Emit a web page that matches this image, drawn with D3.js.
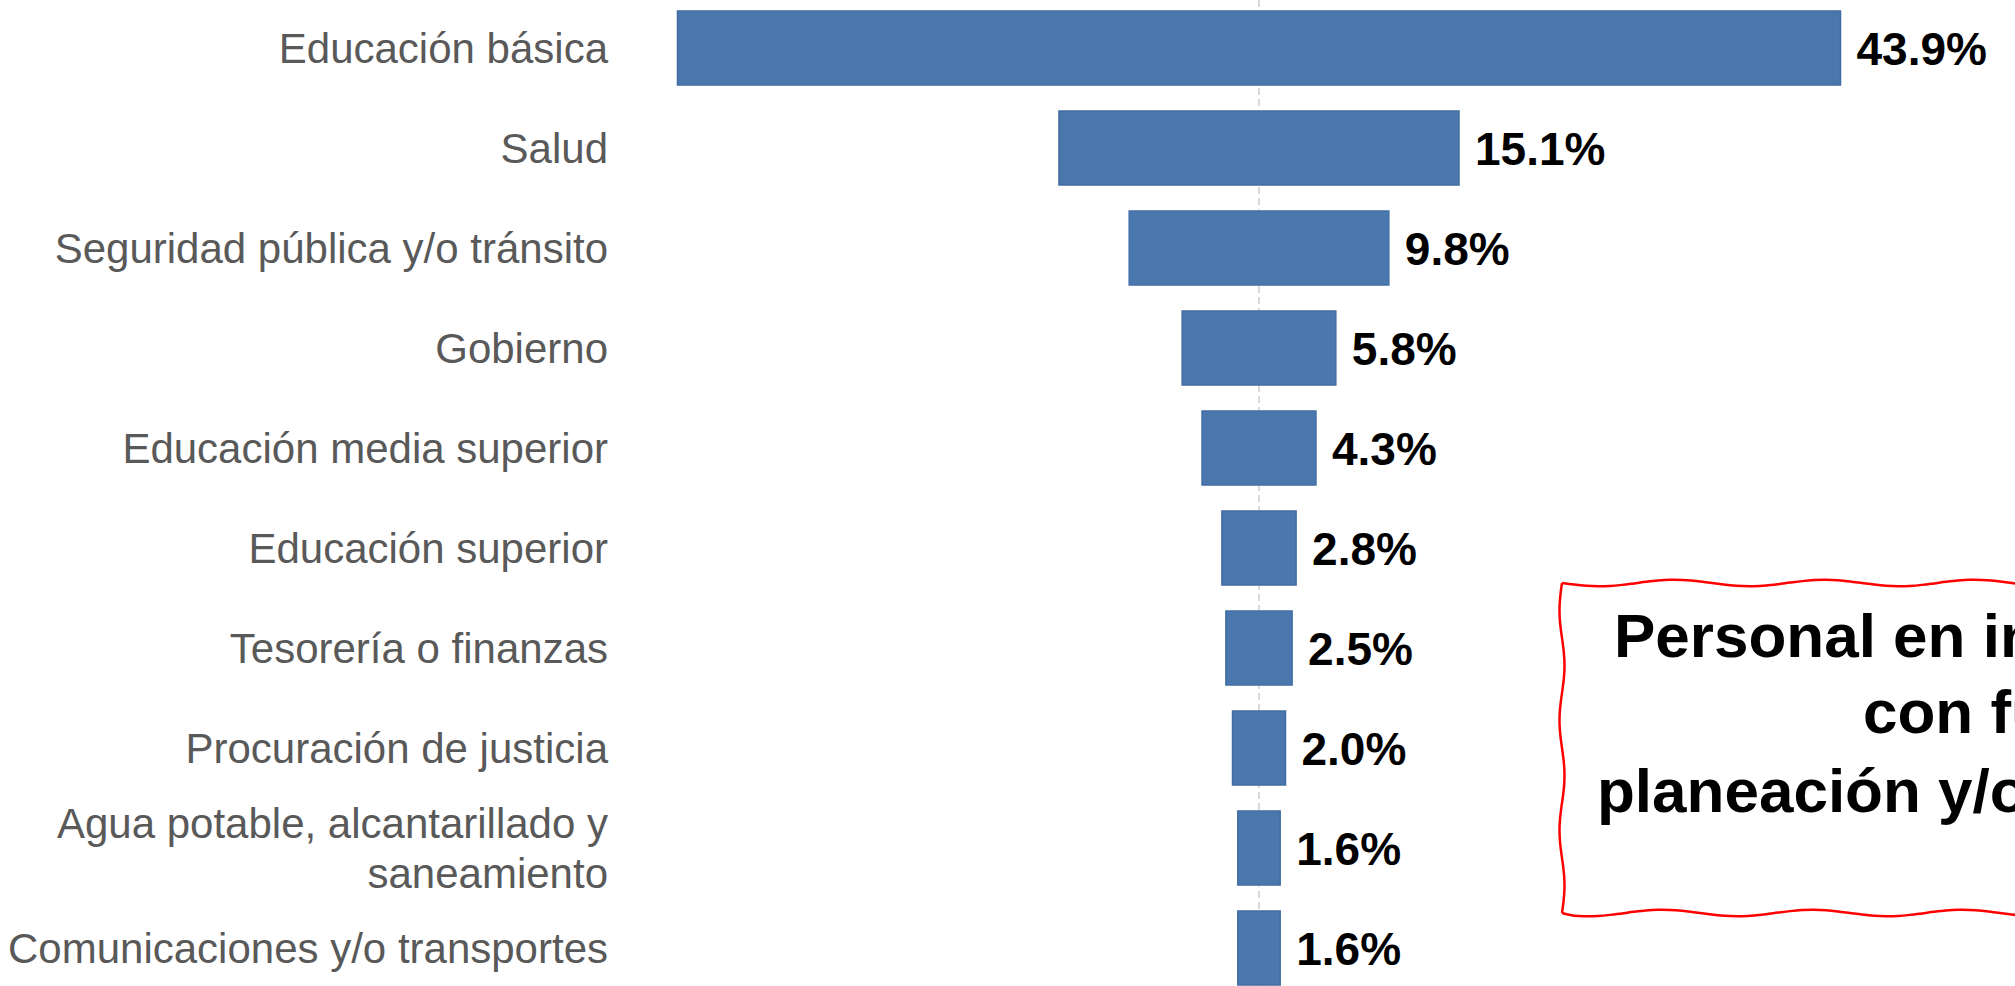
<!DOCTYPE html>
<html>
<head>
<meta charset="utf-8">
<script src="https://cdn.jsdelivr.net/npm/d3@7"></script>
<style>
  html, body { margin: 0; padding: 0; background: #fff; overflow: hidden; }
  svg { display: block; }
</style>
</head>
<body>
<svg id="chart"></svg>
<script>
// data
const categories = [
    "Educación básica",
    "Salud",
    "Seguridad pública y/o tránsito",
    "Gobierno",
    "Educación media superior",
    "Educación superior",
    "Tesorería o finanzas",
    "Procuración de justicia",
    "Agua potable, alcantarillado y\nsaneamiento",
    "Comunicaciones y/o transportes"
];
const values = [43.9, 15.1, 9.8, 5.8, 4.3, 2.8, 2.5, 2.0, 1.6, 1.6];
const valueLabels = ["43.9%", "15.1%", "9.8%", "5.8%", "4.3%", "2.8%", "2.5%", "2.0%", "1.6%", "1.6%"];
const noteLines = ["Personal en instituciones", "con funciones de", "planeación y/o evaluación"];

const data = categories.map((c, i) => ({ cat: c, value: values[i], label: valueLabels[i] }));

const width = 2015, height = 986;
const centerX = 1259;
const labelRight = 608;

const svg = d3.select("#chart")
    .attr("width", width)
    .attr("height", height);

svg.append("rect")
    .attr("width", width)
    .attr("height", height)
    .attr("fill", "#fff");

const y = d3.scaleBand()
    .domain(categories)
    .range([-2, 998])
    .paddingInner(0.26)
    .paddingOuter(0.13);

const x = d3.scaleLinear()
    .domain([0, 43.9])
    .range([0, 1163]);

// dashed center line
svg.append("line")
    .attr("x1", centerX).attr("x2", centerX)
    .attr("y1", 0).attr("y2", height)
    .attr("stroke", "#b3b3b3")
    .attr("stroke-width", 1)
    .attr("stroke-dasharray", "7,4");

// bars, centered on the line
svg.selectAll("rect.bar")
    .data(data)
    .enter()
    .append("rect")
    .attr("class", "bar")
    .attr("x", d => centerX - x(d.value) / 2)
    .attr("y", d => y(d.cat))
    .attr("width", d => x(d.value))
    .attr("height", y.bandwidth())
    .attr("fill", "#4a77ae")
    .attr("stroke", "#406da3")
    .attr("stroke-width", 1.5);

// value labels
svg.selectAll("text.val")
    .data(data)
    .enter()
    .append("text")
    .attr("class", "val")
    .attr("x", d => centerX + x(d.value) / 2 + 16)
    .attr("y", d => y(d.cat) + y.bandwidth() / 2)
    .attr("dy", "0.36em")
    .attr("font-family", "'Liberation Sans', Arial, sans-serif")
    .attr("font-weight", "bold")
    .attr("font-size", 46)
    .attr("fill", "#000")
    .text(d => d.label);

// category labels
const catText = svg.selectAll("text.cat")
    .data(data)
    .enter()
    .append("text")
    .attr("class", "cat")
    .attr("text-anchor", "end")
    .attr("font-family", "'Liberation Sans', Arial, sans-serif")
    .attr("font-size", 42)
    .attr("fill", "#595959")
    .attr("transform", d => `translate(${labelRight},${y(d.cat) + y.bandwidth() / 2})`);

catText.each(function(d) {
    const lines = d.cat.split("\n");
    const lh = 50;
    const start = -(lines.length - 1) * lh / 2;
    d3.select(this).selectAll("tspan")
        .data(lines)
        .enter()
        .append("tspan")
        .attr("x", 0)
        .attr("y", (l, i) => start + i * lh)
        .attr("dy", "0.36em")
        .text(l => l);
});

// wavy red note box (runs off the right edge)
function wavy(x0, y0, x1, y1, amp, wave) {
    const len = Math.hypot(x1 - x0, y1 - y0);
    const n = Math.ceil(len / 12);
    const nx = -(y1 - y0) / len, ny = (x1 - x0) / len;
    return d3.range(n + 1).map(i => {
        const t = i / n;
        const o = (i === 0 || i === n) ? 0 : amp * Math.sin(t * len / wave * Math.PI * 2);
        return [x0 + (x1 - x0) * t + nx * o, y0 + (y1 - y0) * t + ny * o];
    });
}
const boxL = 1562, boxT = 583, boxB = 913, boxR = 2150;
const line = d3.line().curve(d3.curveCatmullRom);
const edges = [
    wavy(boxL, boxT, boxR, boxT, 3.2, 150),
    wavy(boxR, boxT, boxR, boxB, 3, 120),
    wavy(boxR, boxB, boxL, boxB, 3.2, 150),
    wavy(boxL, boxB, boxL, boxT, 2.5, 110)
];
svg.selectAll("path.edge")
    .data(edges)
    .enter()
    .append("path")
    .attr("class", "edge")
    .attr("d", line)
    .attr("fill", "none")
    .attr("stroke", "#ff0000")
    .attr("stroke-width", 2.5);

// note text, cut by the right edge as in the source picture
const noteX = [1614, 1863, 1597];
const noteY = [657, 733, 812];
svg.selectAll("text.note")
    .data(noteLines)
    .enter()
    .append("text")
    .attr("class", "note")
    .attr("x", (d, i) => noteX[i])
    .attr("y", (d, i) => noteY[i])
    .attr("font-family", "'Liberation Sans', Arial, sans-serif")
    .attr("font-weight", "bold")
    .attr("font-size", 62)
    .attr("fill", "#000")
    .text(d => d);
</script>
</body>
</html>
